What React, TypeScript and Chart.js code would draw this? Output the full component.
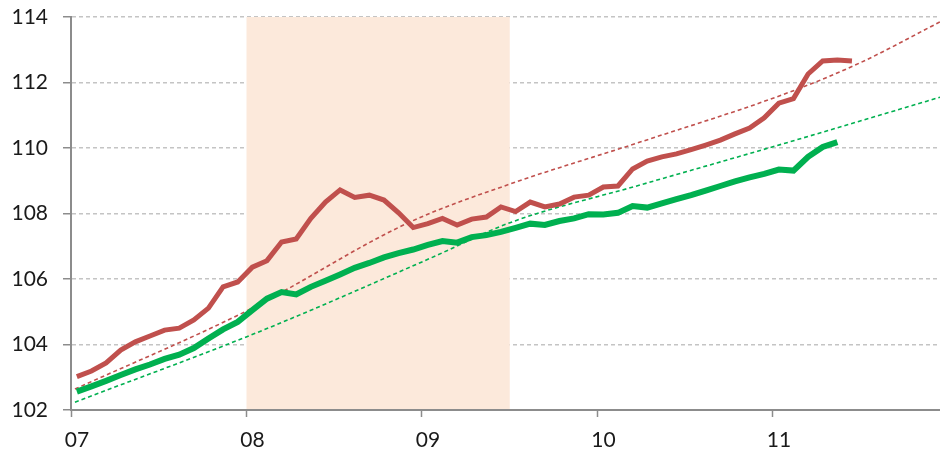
import React, { useEffect, useRef } from 'react';
import { Chart, registerables } from 'chart.js';

Chart.register(...registerables);

// x axis in months since Jan 2007
const YEAR_LABELS = ['07', '08', '09', '10', '11'];
const X_MAX = 59.42;
const MONTH_OFFSET = 0.4;
const SHADE_START = 12;
const SHADE_END = 30;

const RED_SERIES = [
  103.02, 103.19, 103.44, 103.83, 104.08, 104.26, 104.44, 104.5, 104.75, 105.11,
  105.76, 105.91, 106.36, 106.56, 107.13, 107.22, 107.85, 108.35, 108.72, 108.49,
  108.56, 108.41, 108.02, 107.57, 107.69, 107.85, 107.65, 107.83, 107.89, 108.2,
  108.06, 108.35, 108.2, 108.29, 108.5, 108.56, 108.81, 108.84, 109.36, 109.6,
  109.73, 109.82, 109.95, 110.09, 110.24, 110.43, 110.61, 110.92, 111.37, 111.51,
  112.26, 112.66, 112.69, 112.66,
];

const GREEN_SERIES = [
  102.56, 102.72, 102.89, 103.07, 103.24, 103.39, 103.56, 103.69, 103.89, 104.18,
  104.46, 104.69, 105.05, 105.4, 105.6, 105.53, 105.76, 105.95, 106.14, 106.34,
  106.49, 106.66, 106.79, 106.9, 107.04, 107.16, 107.11, 107.28, 107.34, 107.44,
  107.56, 107.69, 107.65, 107.77, 107.85, 107.98, 107.97, 108.02, 108.23, 108.18,
  108.31, 108.44, 108.56, 108.7, 108.84, 108.98, 109.1, 109.21, 109.34, 109.31,
  109.73, 110.03, 110.18,
];

const RED_TREND_MONTHS = [0.27, 12.03, 23.18, 30.02, 38.91, 49.16, 53.95, 59.42];
const RED_TREND_VALUES = [102.64, 105.03, 107.74, 108.9, 110.18, 111.71, 112.6, 113.85];

const GREEN_TREND_MONTHS = [0.27, 12.92, 24.55, 30.02, 38.91, 49.16, 59.42];
const GREEN_TREND_VALUES = [102.24, 104.4, 106.63, 107.72, 108.87, 110.19, 111.55];

const RED = '#C0504D';
const GREEN = '#00B050';
const FONT = { family: 'Lato', size: 21 };

export default function App() {
  const ref = useRef<HTMLCanvasElement>(null);

  useEffect(() => {
    if (!ref.current) return;
    const band = {
      id: 'band',
      beforeDatasetsDraw(chart: any) {
        const { ctx, chartArea, scales } = chart;
        const x1 = scales.x.getPixelForValue(SHADE_START);
        const x2 = scales.x.getPixelForValue(SHADE_END);
        ctx.save();
        ctx.fillStyle = '#FCE9DB';
        ctx.fillRect(x1, chartArea.top, x2 - x1, chartArea.bottom - chartArea.top);
        ctx.restore();
      },
    };

    const chart = new Chart(ref.current, {
      type: 'line',
      data: {
        datasets: [
          {
            data: RED_SERIES.map((v, i) => ({ x: i + MONTH_OFFSET, y: v })),
            borderColor: RED,
            borderWidth: 5,
            pointRadius: 0,
            order: 0,
          },
          {
            data: GREEN_SERIES.map((v, i) => ({ x: i + MONTH_OFFSET, y: v })),
            borderColor: GREEN,
            borderWidth: 6,
            pointRadius: 0,
            order: 0,
          },
          {
            data: RED_TREND_MONTHS.map((m, i) => ({ x: m, y: RED_TREND_VALUES[i] })),
            borderColor: RED,
            borderWidth: 1.6,
            borderDash: [4, 3],
            pointRadius: 0,
            cubicInterpolationMode: 'monotone',
            order: 1,
          },
          {
            data: GREEN_TREND_MONTHS.map((m, i) => ({ x: m, y: GREEN_TREND_VALUES[i] })),
            borderColor: GREEN,
            borderWidth: 1.6,
            borderDash: [4, 3],
            pointRadius: 0,
            cubicInterpolationMode: 'monotone',
            order: 1,
          },
        ],
      },
      options: {
        responsive: false,
        animation: false,
        devicePixelRatio: 1,
        layout: { padding: { top: 17, right: 0, left: 0, bottom: 0 } },
        plugins: { legend: { display: false }, tooltip: { enabled: false } },
        scales: {
          x: {
            type: 'linear',
            min: 0,
            max: X_MAX,
            afterFit(s: any) {
              s.height = 42;
              s.paddingLeft = 0;
              s.paddingRight = 0;
            },
            grid: {
              drawOnChartArea: false,
              drawTicks: true,
              tickLength: 7,
              tickColor: '#8C8C8C',
              tickWidth: 1.5,
            },
            border: { color: '#8C8C8C', width: 2, z: 1 },
            ticks: {
              stepSize: 12,
              includeBounds: false,
              autoSkip: false,
              maxRotation: 0,
              padding: 11,
              labelOffset: 6,
              color: '#1A1A1A',
              font: FONT,
              callback: (v: any) => YEAR_LABELS[Math.round(Number(v) / 12)] ?? '',
            },
          },
          y: {
            min: 102,
            max: 114,
            afterFit(s: any) {
              s.width = 71;
              s.paddingTop = 0;
              s.paddingBottom = 0;
            },
            grid: {
              color: '#C4C4C4',
              lineWidth: 1.5,
              tickColor: '#8C8C8C',
              tickLength: 8,
              tickWidth: 1.5,
              tickBorderDash: [],
            },
            border: { color: '#8C8C8C', width: 2, dash: [4, 3] },
            ticks: {
              stepSize: 2,
              padding: 15,
              color: '#1A1A1A',
              font: FONT,
            },
          },
        },
      },
      plugins: [band],
    } as any);

    return () => chart.destroy();
  }, []);

  return (
    <div style={{ position: 'fixed', left: 0, top: 0, width: 940, height: 452, background: '#fff' }}>
      <canvas ref={ref} width={940} height={452} style={{ display: 'block' }} />
    </div>
  );
}
